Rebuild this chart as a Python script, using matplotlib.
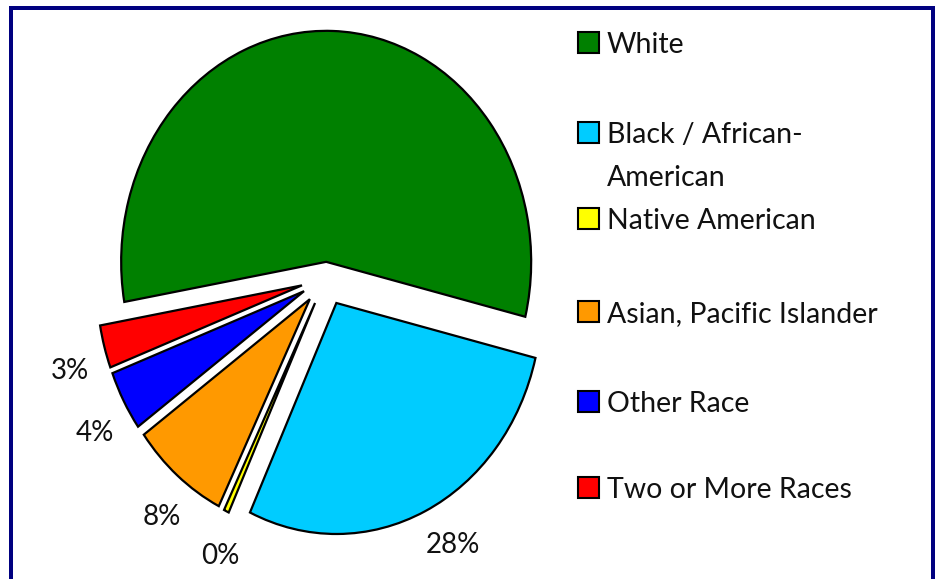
import matplotlib
matplotlib.use("Agg")
import matplotlib.pyplot as plt
from matplotlib.patches import Rectangle
from matplotlib import font_manager
import numpy as np

names = {f.name for f in font_manager.fontManager.ttflist}
main_font = "Liberation Sans Narrow" if "Liberation Sans Narrow" in names else "Lato"
plt.rcParams['font.family'] = [main_font, 'DejaVu Sans']

categories = ["White", "Black / African-\nAmerican", "Native American",
              "Asian, Pacific Islander", "Other Race", "Two or More Races"]
values = [56.6, 28.1, 0.4, 7.7, 4.2, 3.0]
colors = ["#008000", "#00CCFF", "#FFFF00", "#FF9900", "#0000FF", "#FF0000"]
explode = [0.07, 0.12, 0.12, 0.12, 0.12, 0.12]
show_label = [False, True, True, True, True, True]

W, H = 935, 579
fig = plt.figure(figsize=(W / 100, H / 100), dpi=100)
fig.patch.set_facecolor("white")

# pie axes: unit circle stretched to an ellipse (rx=205px, ry=231px)
cx, cy, rx, ry = 325.7, 278.0, 205.0, 231.0
ax = fig.add_axes([0, 0, 1, 1])

def fmt(p, it=iter(show_label)):
    return ("%.0f%%" % p) if next(it) else ""

wedges, texts, autotexts = ax.pie(
    values, colors=colors, explode=explode, startangle=190, counterclock=False,
    autopct=fmt, pctdistance=1.18,
    wedgeprops=dict(edgecolor="black", linewidth=1.6),
    textprops=dict(fontsize=20, color="#111111"))
# place percentage labels just outside each slice (Excel-like best fit)
for w, t in zip(wedges, autotexts):
    th = np.deg2rad((w.theta1 + w.theta2) / 2 + 2.5)
    t.set_position((1.31 * np.cos(th), 1.31 * np.sin(th)))
ax.set_aspect("auto")
ax.set_xlim(-cx / rx, (W - cx) / rx)
ax.set_ylim(-(H - cy) / ry, cy / ry)
ax.axis("off")

# overlay axes in pixel coordinates for frame and legend
ov = fig.add_axes([0, 0, 1, 1], facecolor="none")
ov.set_xlim(0, W)
ov.set_ylim(H, 0)
ov.axis("off")
navy = "#000080"
ov.add_patch(Rectangle((9, 6), 4, H - 6, color=navy, lw=0))
ov.add_patch(Rectangle((9, 6), 926, 4, color=navy, lw=0))
ov.add_patch(Rectangle((931, 6), 4, H - 6, color=navy, lw=0))

baselines = [53, 143, 229, 322, 412, 498]
for name, col, b in zip(categories, colors, baselines):
    ov.add_patch(Rectangle((578, b - 21), 21, 21, facecolor=col,
                           edgecolor="black", lw=1.5))
    for k, line in enumerate(name.split("\n")):
        ov.text(607, b + 43 * k, line, fontsize=20.5, va="baseline", ha="left",
                color="#111111")

fig.savefig("out.png", dpi=100)
